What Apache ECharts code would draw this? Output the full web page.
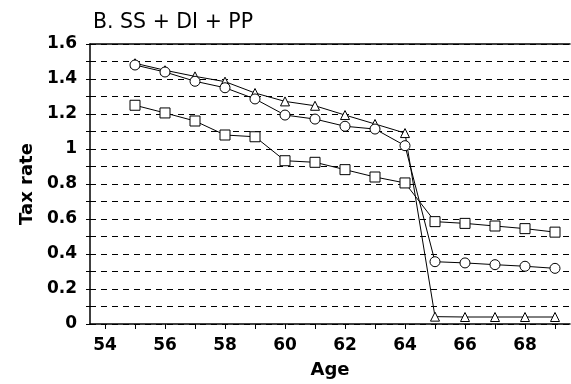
<!doctype html>
<html><head><meta charset="utf-8" />
<style>
  html,body,#app{margin:0;padding:0;width:571px;height:384px;background:#ffffff}
</style>
</head><body><div id="app"></div>
<script src="https://cdn.jsdelivr.net/npm/echarts@6/dist/echarts.min.js"></script>
<script>
// ages 54..69, no data at 54
const ages = ['54','55','56','57','58','59','60','61','62','63','64','65','66','67','68','69'];
const triangleRates = ['-',1.49,1.45,1.415,1.385,1.32,1.272,1.247,1.194,1.143,1.091,0.042,0.04,0.04,0.04,0.04];
const circleRates   = ['-',1.48,1.44,1.387,1.35,1.286,1.194,1.171,1.13,1.114,1.019,0.356,0.349,0.339,0.33,0.318];
const squareRates   = ['-',1.25,1.206,1.16,1.08,1.07,0.933,0.924,0.882,0.84,0.806,0.585,0.575,0.56,0.545,0.525];
const titleText = 'B. SS + DI + PP';

(function(){
  const chart = echarts.init(document.getElementById('app'), null, {renderer:'canvas'});
  const font = 'DejaVu Sans, Arial, sans-serif';
  const mk = (name, data, symbol, size) => ({
    name, type:'line', data, symbol, symbolSize:size, showSymbol:true,
    lineStyle:{color:'#000', width:1}, itemStyle:{color:'#fff', borderColor:'#000', borderWidth:1},
    emphasis:{disabled:true}, animation:false
  });
  const option = {
    backgroundColor:'#ffffff',
    animation:false,
    title:{ text:titleText, left:88, top:7, textStyle:{ color:'#000', fontSize:20.5, fontWeight:'normal', fontFamily:font } },
    grid:{ left:90, right:1, top:44, bottom:59 },
    xAxis:[{
      type:'category', data:ages, boundaryGap:true,
      name:'Age', nameLocation:'middle', nameGap:37,
      nameTextStyle:{ color:'#000', fontSize:18, fontWeight:'bold', fontFamily:font },
      axisLine:{ lineStyle:{ color:'#000', width:1.5 } },
      axisTick:{ show:true, alignWithLabel:true, interval:0, length:5, lineStyle:{color:'#000'} },
      axisLabel:{ interval:1, color:'#000', fontSize:17, fontWeight:'bold', fontFamily:font, margin:13 },
      splitLine:{ show:false }
    },{
      type:'category', data:ages, position:'top',
      axisLine:{ show:true, lineStyle:{ color:'#000', width:1.5 } },
      axisTick:{ show:false }, axisLabel:{ show:false }, splitLine:{ show:false }
    }],
    yAxis:{
      type:'value', min:0, max:1.6, interval:0.1,
      name:'Tax rate', nameLocation:'middle', nameGap:44,
      nameTextStyle:{ color:'#000', fontSize:18, fontWeight:'bold', fontFamily:font },
      axisLine:{ show:true, lineStyle:{ color:'#000', width:1.5 } },
      axisTick:{ show:true, length:4, lineStyle:{color:'#000'} },
      axisLabel:{ color:'#000', fontSize:17, fontWeight:'bold', fontFamily:font, margin:13,
        formatter:(v)=>{ const k=Math.round(v*10); return k%2===0 ? String(k/10) : ''; } },
      splitLine:{ show:true, lineStyle:{ color:'#000', width:1, type:[6,5] } }
    },
    series:[
      mk('triangle', triangleRates, 'triangle', 9),
      mk('circle', circleRates, 'circle', 10),
      mk('square', squareRates, 'rect', 10)
    ]
  };
  chart.setOption(option);
})();
</script></body></html>
